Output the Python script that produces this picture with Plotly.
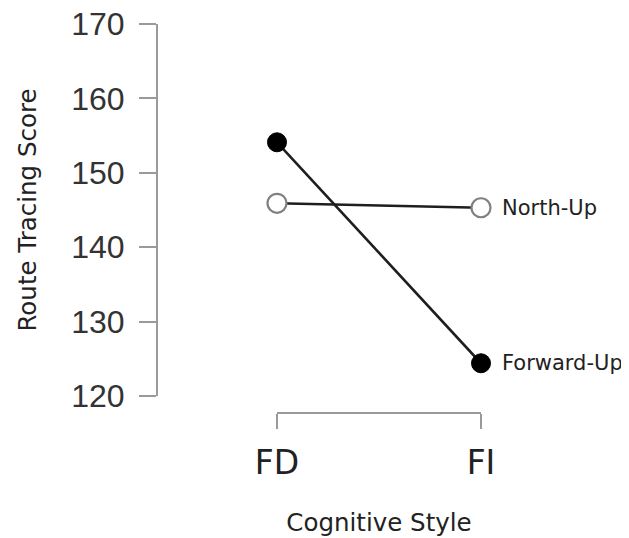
import plotly.graph_objects as go

categories = ["FD", "FI"]
north_up = [145.9, 145.3]
forward_up = [154.1, 124.4]
series_names = ["North-Up", "Forward-Up"]
y_ticks = [120, 130, 140, 150, 160, 170]

# page body has an 8px margin
W, H = 621, 530
ml, mr, mt, mb = 149, 148, 16, 125
pw = W - ml - mr
ph = H - mt - mb

fig = go.Figure()
fig.add_trace(go.Scatter(
    x=categories, y=north_up, mode="lines+markers",
    line=dict(color="#1e1e1e", width=2.6),
    marker=dict(size=19, color="white", line=dict(color="#808080", width=2.2)),
    cliponaxis=False, showlegend=False, name=series_names[0]))
fig.add_trace(go.Scatter(
    x=categories, y=forward_up, mode="lines+markers",
    line=dict(color="#1e1e1e", width=2.6),
    marker=dict(size=19, color="black", line=dict(color="black", width=1)),
    cliponaxis=False, showlegend=False, name=series_names[1]))

for name, vals in zip(series_names, [north_up, forward_up]):
    fig.add_annotation(x=categories[-1], y=vals[-1], text=name, showarrow=False,
                       xanchor="left", yanchor="middle", xshift=19,
                       font=dict(family="DejaVu Sans", size=21, color="#222"))

fig.update_layout(
    template="none",
    width=W, height=H, margin=dict(l=ml, r=mr, t=mt, b=mb, autoexpand=False),
    paper_bgcolor="white", plot_bgcolor="white",
    xaxis=dict(
        domain=[(269 - ml) / pw, 1], range=[0, 1], type="category",
        anchor="free", position=0, automargin=False,
        showline=True, linecolor="#9a9a9a", linewidth=2,
        ticks="outside", ticklen=15, tickwidth=2, tickcolor="#9a9a9a",
        showgrid=False, zeroline=False,
        tickfont=dict(family="DejaVu Sans", size=33, color="#222"),
        ticklabelstandoff=5,
        title=dict(text="Cognitive Style", standoff=32,
                   font=dict(family="DejaVu Sans", size=24.5, color="#222")),
    ),
    yaxis=dict(
        domain=[(405 - 388) / ph, 1], range=[120, 170],
        tickvals=y_ticks, anchor="free", position=0, automargin=False,
        ticklabeloverflow="allow",
        showline=True, linecolor="#9a9a9a", linewidth=2,
        ticks="outside", ticklen=17, tickwidth=2, tickcolor="#9a9a9a",
        showgrid=False, zeroline=False,
        tickfont=dict(family="Liberation Sans", size=32, color="#333"),
        ticklabelstandoff=8,
        title=dict(text="Route Tracing Score", standoff=27,
                   font=dict(family="DejaVu Sans", size=24.5, color="#222")),
    ),
)

fig.write_html("out.html")
